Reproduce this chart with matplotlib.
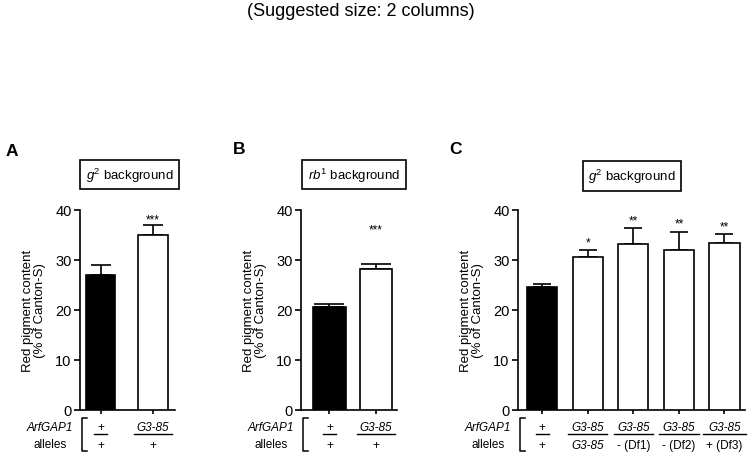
import matplotlib
matplotlib.use("Agg")
import matplotlib.pyplot as plt
import matplotlib.transforms as mtransforms
from matplotlib.lines import Line2D

plt.rcParams['font.family'] = ['Liberation Sans', 'DejaVu Sans']
plt.rcParams['mathtext.fontset'] = 'custom'
plt.rcParams['mathtext.rm'] = 'Liberation Sans'
plt.rcParams['mathtext.it'] = 'Liberation Sans:italic'
plt.rcParams['mathtext.bf'] = 'Liberation Sans:bold'

# ---------------- data ----------------
a_top = ["+", "G3-85"]
a_bot = ["+", "+"]
a_mean = [27.0, 35.0]
a_err = [2.0, 2.0]
a_stars = ["", "***"]
a_colors = ["black", "white"]

b_top = ["+", "G3-85"]
b_bot = ["+", "+"]
b_mean = [20.7, 28.2]
b_err = [0.6, 1.0]
b_stars = ["", "***"]
b_colors = ["black", "white"]

c_top = ["+", "G3-85", "G3-85", "G3-85", "G3-85"]
c_bot = ["+", "G3-85", "- (Df1)", "- (Df2)", "+ (Df3)"]
c_mean = [24.7, 30.7, 33.2, 32.0, 33.4]
c_err = [0.5, 1.3, 3.2, 3.7, 1.8]
c_stars = ["", "*", "**", "**", "**"]
c_colors = ["black", "white", "white", "white", "white"]

yticks = [0, 10, 20, 30, 40]
ylabel = "Red pigment content\n(% of Canton-S)"

W, H = 750, 460
fig = plt.figure(figsize=(W / 100, H / 100), dpi=100)


def fx(px):
    return px / W


def fy(py):
    return 1 - py / H


fig.text(fx(361), fy(11), "(Suggested size: 2 columns)", ha='center', va='center', fontsize=13)

panels = [
    dict(letter="A", lp=(12, 151), ax=(80, 175), xlim=(-0.40, 1.42), width=0.56, capsize=7.0,
         title=r"$g^{2}$ background", tpos=(129.5, 175.5),
         top=a_top, bot=a_bot, mean=a_mean, err=a_err, stars=a_stars, colors=a_colors, soff=0.0),
    dict(letter="B", lp=(239, 150), ax=(301, 397), xlim=(-0.61, 1.45), width=0.69, capsize=11.0,
         title=r"$rb^{1}$ background", tpos=(354, 175.5),
         top=b_top, bot=b_bot, mean=b_mean, err=b_err, stars=b_stars, colors=b_colors, soff=5.8),
    dict(letter="C", lp=(455, 150), ax=(518, 745), xlim=(-0.53, 4.45), width=0.66, capsize=6.5,
         title=r"$g^{2}$ background", tpos=(632, 177),
         top=c_top, bot=c_bot, mean=c_mean, err=c_err, stars=c_stars, colors=c_colors, soff=0.4),
]

y_top_px, y_bot_px = 211, 411
axes = []
for p in panels:
    x0, x1 = p['ax']
    ax = fig.add_axes([fx(x0), fy(y_bot_px), (x1 - x0) / W, (y_bot_px - y_top_px) / H])
    axes.append((ax, p))
    n = len(p['mean'])
    xs = list(range(n))
    ax.bar(xs, p['mean'], width=p['width'], color=p['colors'], edgecolor='black',
           linewidth=1.2, zorder=3)
    ax.errorbar(xs, p['mean'], yerr=[[0] * n, p['err']], fmt='none', ecolor='black',
                elinewidth=1.2, capsize=p['capsize'], capthick=1.2, zorder=2)
    for i, s in enumerate(p['stars']):
        if s:
            ax.text(i, p['mean'][i] + p['err'][i] + p['soff'], s, ha='center', va='bottom',
                    fontsize=8.5)
    ax.set_ylim(0, 40)
    ax.set_xlim(*p['xlim'])
    ax.set_yticks(yticks)
    ax.set_xticks(xs)
    ax.set_xticklabels([])
    for sp in ['top', 'right']:
        ax.spines[sp].set_visible(False)
    for sp in ['left', 'bottom']:
        ax.spines[sp].set_linewidth(1.2)
    ax.tick_params(axis='y', length=4, width=1.2, labelsize=10.5, pad=2)
    ax.tick_params(axis='x', length=3, width=1.2)
    ax.set_ylabel(ylabel, fontsize=9.5, labelpad=7, linespacing=1.0)
    ax.set_clip_on(False)

    # panel letter and title box
    fig.text(fx(p['lp'][0]), fy(p['lp'][1]), p['letter'], fontsize=12.5, fontweight='bold',
             ha='center', va='center')
    fig.text(fx(p['tpos'][0]), fy(p['tpos'][1]), p['title'], fontsize=9.5, ha='center',
             va='center',
             bbox=dict(boxstyle='square,pad=0.42', facecolor='white', edgecolor='black',
                       linewidth=1.2))

    # genotype labels
    tr = mtransforms.blended_transform_factory(ax.transData, fig.transFigure)
    p['tt'] = []
    for i in xs:
        it = {'fontstyle': 'italic'} if p['top'][i] not in ('+',) else {}
        t1 = ax.text(i, fy(428), p['top'][i], transform=tr, ha='center', va='center',
                     fontsize=8.5, **it)
        ib = {'fontstyle': 'italic'} if p['bot'][i] == 'G3-85' else {}
        t2 = ax.text(i, fy(446), p['bot'][i], transform=tr, ha='center', va='center',
                     fontsize=8.5, **ib)
        p['tt'].append((t1, t2))

    # row label and bracket
    fig.text(fx(x0 - 30), fy(428), "ArfGAP1", fontstyle='italic', fontsize=8.5,
             ha='center', va='center')
    fig.text(fx(x0 - 30), fy(445), "alleles", fontsize=8.5, ha='center', va='center')
    bx = x0 + 1.5
    fig.add_artist(Line2D([fx(bx + 5), fx(bx), fx(bx), fx(bx + 5)],
                          [fy(419), fy(419), fy(452), fy(452)],
                          transform=fig.transFigure, color='black', linewidth=1.1))

# underline bars sized from label widths
fig.canvas.draw()
renderer = fig.canvas.get_renderer()
for ax, p in axes:
    for i, (t1, t2) in enumerate(p['tt']):
        w = max(t1.get_window_extent(renderer).width, t2.get_window_extent(renderer).width) + 6
        cx = ax.transData.transform((i, 0))[0]
        fig.add_artist(Line2D([fx(cx - w / 2), fx(cx + w / 2)], [fy(435), fy(435)],
                              transform=fig.transFigure, color='black', linewidth=1.0))

fig.savefig("out.png", dpi=100, facecolor='white')
